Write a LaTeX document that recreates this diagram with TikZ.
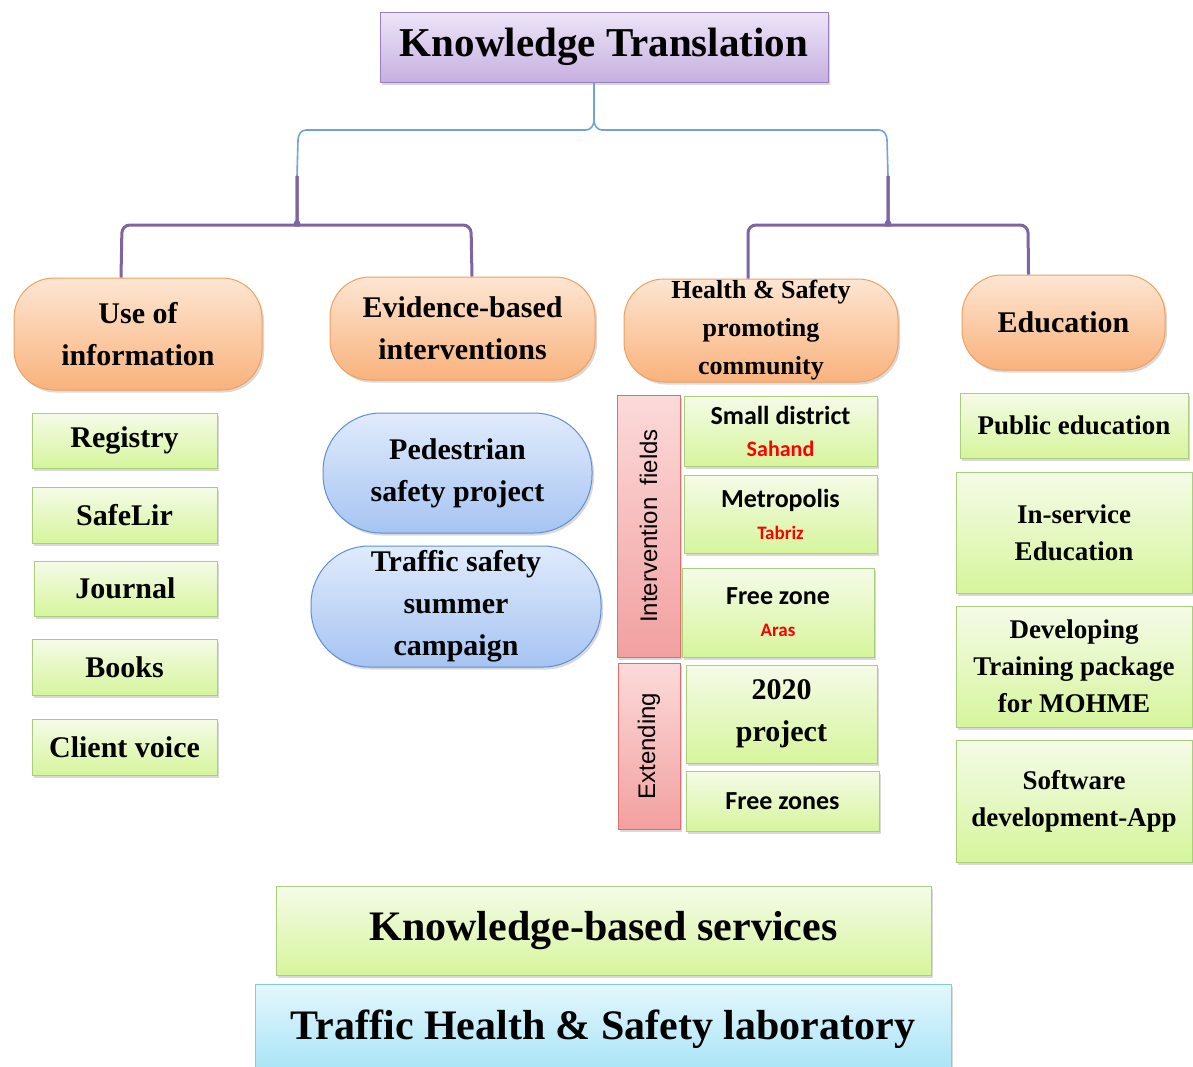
\documentclass[tikz,border=0pt]{standalone}
\usepackage{fontspec}
\setmainfont{Liberation Serif}
\newfontfamily\carl{Carlito}
\newfontfamily\lsans{Liberation Sans}
\usetikzlibrary{shadows}
\definecolor{purT}{HTML}{EDE5F7}
\definecolor{purB}{HTML}{C7B0E0}
\definecolor{purD}{HTML}{9A7EC2}
\definecolor{orT}{HTML}{FDE6D2}
\definecolor{orB}{HTML}{F9B27C}
\definecolor{orD}{HTML}{F0A060}
\definecolor{grT}{HTML}{F5FBE8}
\definecolor{grB}{HTML}{D6F59C}
\definecolor{grD}{HTML}{A9CF7A}
\definecolor{blT}{HTML}{E0EBFC}
\definecolor{blB}{HTML}{A6C4F2}
\definecolor{blD}{HTML}{5E8FD3}
\definecolor{rdT}{HTML}{FCDADA}
\definecolor{rdB}{HTML}{F2A0A0}
\definecolor{rdD}{HTML}{E06C6C}
\definecolor{cyT}{HTML}{E4F7FD}
\definecolor{cyB}{HTML}{A6E3F6}
\definecolor{cyD}{HTML}{7CCDE6}
\definecolor{lnBlue}{HTML}{6FA3DA}
\definecolor{lnPur}{HTML}{8064A2}
\begin{document}
\begin{tikzpicture}[x=1pt,y=-1pt,
  box/.style={line width=1pt, inner sep=0pt, align=center,
    drop shadow={shadow xshift=2pt,shadow yshift=-2.5pt,opacity=0.3}},
  ktbox/.style={box, draw=purD, top color=purT, bottom color=purB},
  orbox/.style={box, draw=orD, top color=orT, bottom color=orB, rounded corners=40pt},
  grbox/.style={box, draw=grD, top color=grT, bottom color=grB},
  blbox/.style={box, draw=blD, top color=blT, bottom color=blB, rounded corners=58pt},
  rdbox/.style={box, draw=rdD, top color=rdT, bottom color=rdB},
  cybox/.style={box, draw=cyD, top color=cyT, bottom color=cyB},
  fbig/.style={font=\fontsize{41}{48}\selectfont\bfseries},
  fbot/.style={font=\fontsize{42}{48}\selectfont\bfseries},
  fmid/.style={font=\fontsize{30}{42}\selectfont\bfseries},
  fhs/.style={font=\fontsize{26}{38}\selectfont\bfseries},
  fsm/.style={font=\fontsize{27}{37}\selectfont\bfseries},
  fcar/.style={font=\carl\fontsize{26}{30}\selectfont\bfseries},
  frot/.style={font=\lsans\fontsize{24}{28}\selectfont, rotate=90, inner sep=0pt},
  blueln/.style={draw=lnBlue, line width=1.6pt},
  purln/.style={draw=lnPur, line width=3pt, rounded corners=8pt},
]
\useasboundingbox (0,0) rectangle (1193,1066);

% top
\node[ktbox, fbig, minimum width=448pt, minimum height=70pt] (kt) at (604,47) {Knowledge Translation};

% orange category boxes
\node[orbox, fmid, minimum width=248pt, minimum height=112pt] (use) at (138,334) {Use of\\information};
\node[orbox, fmid, minimum width=265pt, minimum height=103pt] (evid) at (462.5,328.5) {Evidence-based\\interventions};
\node[orbox, fhs, minimum width=274pt, minimum height=103pt] (hs) at (761,330.5) {Health \& Safety\\promoting\\community};
\node[orbox, fmid, minimum width=203pt, minimum height=95pt] (edu) at (1063.5,322.5) {Education};

% connectors
\coordinate (lj) at (297,176);
\coordinate (rj) at (888,176);
\draw[blueln] ([xshift=-10pt]kt.south) -- (594,120) to[out=-90,in=0] (586,130) -- (306,130) to[out=180,in=90] (298,140) -- (lj);
\draw[blueln] ([xshift=-10pt]kt.south) -- (594,120) to[out=-90,in=180] (602,130) -- (879,130) to[out=0,in=90] (887,140) -- (rj);
\draw[purln] (lj) -- (297,214) to[out=-90,in=0] (288,225) -- (122,225) -- ([xshift=-17pt]use.north);
\draw[purln] (lj) -- (297,214) to[out=-90,in=180] (306,225) -- (471,225) -- ([xshift=9.5pt]evid.north);
\draw[purln] (rj) -- (888,214) to[out=-90,in=0] (879,225) -- (748,225) -- ([xshift=-13pt]hs.north);
\draw[purln] (rj) -- (888,214) to[out=-90,in=180] (897,225) -- (1028,225) -- ([xshift=-35pt]edu.north);

% use of information column
\node[grbox, fmid, minimum width=185pt, minimum height=55pt] (reg) at (124.5,440.5) {Registry};
\node[grbox, fmid, minimum width=185pt, minimum height=56pt] (safe) at (124.5,515) {SafeLir};
\node[grbox, fmid, minimum width=183pt, minimum height=55pt] (jour) at (125.5,588.5) {Journal};
\node[grbox, fmid, minimum width=185pt, minimum height=56pt] (books) at (124.5,667) {Books};
\node[grbox, fmid, minimum width=185pt, minimum height=56pt] (client) at (124.5,747) {Client voice};

% evidence-based column
\node[blbox, fmid, minimum width=269pt, minimum height=120pt] (ped) at (457.5,473) {Pedestrian\\safety project};
\node[blbox, fmid, minimum width=290pt, minimum height=121pt] (tss) at (456,606.5) {Traffic safety\\summer\\campaign};

% health & safety column
\node[rdbox, minimum width=63pt, minimum height=262pt] (iff) at (648.5,526) {};
\node[frot] (ifft) at (iff.center) {Intervention\enspace fields};
\node[rdbox, minimum width=62pt, minimum height=166pt] (ext) at (649,746) {};
\node[frot] (extt) at (ext.center) {Extending};
\node[grbox, fcar, minimum width=193pt, minimum height=70pt] (small) at (780.5,431) {Small district\\[2pt]{\fontsize{22}{24}\selectfont\color{red}Sahand}};
\node[grbox, fcar, minimum width=193pt, minimum height=78pt] (metro) at (780.5,514) {Metropolis\\[2pt]{\fontsize{19}{22}\selectfont\color{red}Tabriz}};
\node[grbox, fcar, minimum width=192pt, minimum height=89pt] (fz) at (778,612.5) {Free zone\\[2pt]{\fontsize{19}{22}\selectfont\color{red}Aras}};
\node[grbox, fmid, minimum width=191pt, minimum height=98pt] (p2020) at (781.5,714) {2020\\project};
\node[grbox, fcar, minimum width=193pt, minimum height=60pt] (fzs) at (782.5,801) {Free zones};

% education column
\node[grbox, fsm, minimum width=228pt, minimum height=65pt] (pub) at (1074,425.5) {Public education};
\node[grbox, fsm, minimum width=236pt, minimum height=121pt] (inser) at (1074,532.5) {In-service\\Education};
\node[grbox, fsm, minimum width=236pt, minimum height=121pt] (devp) at (1074,666.5) {Developing\\Training package\\for MOHME};
\node[grbox, fsm, minimum width=236pt, minimum height=122pt] (soft) at (1074,801) {Software\\development-App};

% bottom
\node[grbox, fbot, minimum width=655pt, minimum height=89pt] (kbs) at (603.5,930.5) {Knowledge-based services};
\node[cybox, fbot, minimum width=696pt, minimum height=90pt] (ths) at (603,1029) {Traffic Health \& Safety laboratory};
\end{tikzpicture}
\end{document}
